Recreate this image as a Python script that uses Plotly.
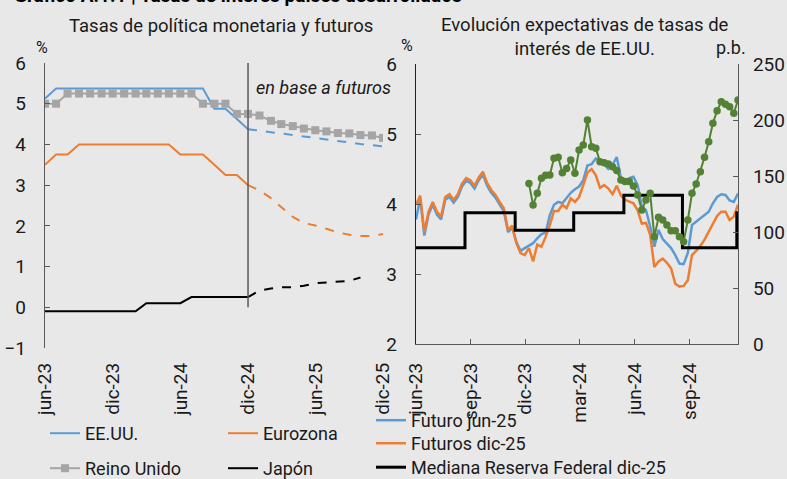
import pandas as pd
import plotly.graph_objects as go

# ---------------- Left chart data (monthly) ----------------
months = pd.date_range("2023-06-01", "2025-12-01", freq="MS")
hist_idx = 19  # jun-23 .. dic-24 are observed; futures start at dic-24

us_hist = [5.125, 5.375, 5.375, 5.375, 5.375, 5.375, 5.375, 5.375, 5.375, 5.375,
           5.375, 5.375, 5.375, 5.375, 5.375, 4.875, 4.875, 4.625, 4.375]
us_fut = [4.375, 4.33, 4.30, 4.27, 4.23, 4.19, 4.15, 4.12, 4.08, 4.05, 4.01, 3.98, 3.95]

ez_hist = [3.5, 3.75, 3.75, 4.0, 4.0, 4.0, 4.0, 4.0, 4.0, 4.0, 4.0, 4.0,
           3.75, 3.75, 3.75, 3.5, 3.25, 3.25, 3.0]
ez_fut = [3.0, 2.87, 2.68, 2.46, 2.22, 2.07, 2.01, 1.93, 1.84, 1.78, 1.75, 1.75, 1.80]

uk_all = [5.0, 5.0, 5.25, 5.25, 5.25, 5.25, 5.25, 5.25, 5.25, 5.25, 5.25, 5.25,
          5.25, 5.25, 5.0, 5.0, 5.0, 4.75, 4.75,
          4.71, 4.58, 4.50, 4.45, 4.39, 4.35, 4.32, 4.28, 4.27, 4.23, 4.22, 4.16]

jp_hist = [-0.1, -0.1, -0.1, -0.1, -0.1, -0.1, -0.1, -0.1, -0.1, 0.1, 0.1, 0.1,
           0.1, 0.25, 0.25, 0.25, 0.25, 0.25, 0.25]
jp_fut = [0.25, 0.41, 0.46, 0.49, 0.49, 0.53, 0.59, 0.61, 0.63, 0.65, 0.73]

left_tickvals = ["2023-06-01", "2023-12-01", "2024-06-01", "2024-12-01", "2025-06-01", "2025-12-01"]
left_ticktext = ["jun-23", "dic-23", "jun-24", "dic-24", "jun-25", "dic-25"]

# ---------------- Right chart data (weekly) ----------------
weeks = pd.date_range("2023-06-30", periods=78, freq="7D")

fut_dic25 = [3.99, 4.12, 3.60, 3.89, 4.03, 3.89, 3.82, 4.10, 4.14, 4.06,
             4.14, 4.29, 4.37, 4.34, 4.26, 4.38, 4.46, 4.30, 4.20, 4.13,
             4.03, 3.94, 3.63, 3.69, 3.44, 3.30, 3.27, 3.37, 3.18, 3.42,
             3.39, 3.53, 3.70, 3.90, 3.90, 3.99, 3.94, 4.08, 4.03, 4.10,
             4.27, 4.45, 4.50, 4.41, 4.23, 4.27, 4.22, 4.14, 4.26, 4.12,
             4.06, 4.03, 4.01, 3.91, 3.72, 3.73, 3.56, 3.10, 3.18, 3.22,
             3.16, 3.08, 2.86, 2.82, 2.83, 2.91, 3.27, 3.33, 3.40, 3.49,
             3.60, 3.73, 3.83, 3.89, 3.89, 3.77, 3.82, 3.99]

fut_jun25 = [3.78, 4.08, 3.55, 3.85, 3.99, 3.85, 3.78, 4.06, 4.10, 4.02,
             4.10, 4.25, 4.33, 4.30, 4.22, 4.34, 4.42, 4.26, 4.16, 4.09,
             3.99, 3.90, 3.60, 3.66, 3.46, 3.33, 3.37, 3.40, 3.44, 3.51,
             3.57, 3.59, 3.84, 3.99, 4.03, 4.01, 4.08, 4.16, 4.21, 4.25,
             4.34, 4.55, 4.57, 4.65, 4.63, 4.56, 4.50, 4.56, 4.67, 4.37,
             4.32, 4.37, 4.39, 4.27, 3.97, 3.91, 3.68, 3.39, 3.63, 3.50,
             3.44, 3.37, 3.27, 3.15, 3.14, 3.30, 3.70, 3.75, 3.80, 3.84,
             3.89, 4.01, 4.10, 4.14, 4.13, 4.05, 4.03, 4.15]

spread_start = 27  # first week with the p.b. series
spread_pb = [143.4, 124.1, 134.5, 147.9, 150.6, 150.9, 165.8, 166.7, 153.0, 156.8,
             164.3, 152.4, 173.2, 177.7, 200.0, 176.2, 174.7, 162.8, 161.9, 160.7,
             158.3, 154.8, 146.4, 145.0, 145.0, 141.1, 133.0, 119.6, 128.6, 134.5,
             95.8, 113.1, 110.7, 106.3, 101.2, 101.2, 95.8, 91.4, 110.7, 134.5,
             142.9, 153.9, 166.7, 180.6, 197.0, 208.3, 216.4, 214.0, 211.9, 206.0, 217.9]

fed_dates = ["2023-06-30", "2023-09-20", "2023-12-13", "2024-03-20", "2024-06-12",
             "2024-09-18", "2024-12-18", "2024-12-20"]
fed_median = [3.375, 3.875, 3.625, 3.875, 4.125, 3.375, 3.875, 3.875]

right_tickvals = ["2023-06-30", "2023-09-30", "2023-12-30", "2024-03-30", "2024-06-30", "2024-09-30"]
right_ticktext = ["jun-23", "sep-23", "dic-23", "mar-24", "jun-24", "sep-24"]

# ---------------- Styling ----------------
BG = "#e8e8e8"
BLUE = "#5b9bd5"
ORANGE = "#ed7d31"
GRAY = "#a5a5a5"
GREEN = "#548235"
AXIS = "#595959"
TXT = "#1a1a1a"
FONT = "Roboto"
W, H = 787, 479

def px_x(p):
    return p / W

def px_y(p):
    return 1 - p / H

fig = go.Figure()

# Left chart traces
fig.add_trace(go.Scatter(x=months[:hist_idx], y=us_hist, mode="lines", name="EE.UU.",
                         line=dict(color=BLUE, width=2), legend="legend", xaxis="x", yaxis="y"))
fig.add_trace(go.Scatter(x=months[hist_idx - 1:], y=us_fut, mode="lines", showlegend=False,
                         line=dict(color=BLUE, width=2, dash="dash"), xaxis="x", yaxis="y"))
fig.add_trace(go.Scatter(x=months[:hist_idx], y=ez_hist, mode="lines", name="Eurozona",
                         line=dict(color=ORANGE, width=2), legend="legend", xaxis="x", yaxis="y"))
fig.add_trace(go.Scatter(x=months[hist_idx - 1:], y=ez_fut, mode="lines", showlegend=False,
                         line=dict(color=ORANGE, width=2, dash="dash"), xaxis="x", yaxis="y"))
fig.add_trace(go.Scatter(x=months, y=uk_all, mode="lines+markers", name="Reino Unido",
                         line=dict(color=GRAY, width=2),
                         marker=dict(symbol="square", size=8, color=GRAY),
                         legend="legend2", xaxis="x", yaxis="y"))
fig.add_trace(go.Scatter(x=months[:hist_idx], y=jp_hist, mode="lines", name="Japón",
                         line=dict(color="black", width=2), legend="legend2", xaxis="x", yaxis="y"))
fig.add_trace(go.Scatter(x=months[hist_idx - 1:hist_idx - 1 + len(jp_fut)], y=jp_fut, mode="lines",
                         showlegend=False, line=dict(color="black", width=2, dash="dash"),
                         xaxis="x", yaxis="y"))

# Right chart traces
fig.add_trace(go.Scatter(x=weeks, y=fut_jun25, mode="lines", name="Futuro jun-25",
                         line=dict(color=BLUE, width=2.5), legend="legend3", xaxis="x2", yaxis="y2"))
fig.add_trace(go.Scatter(x=weeks, y=fut_dic25, mode="lines", name="Futuros dic-25",
                         line=dict(color=ORANGE, width=2.5), legend="legend4", xaxis="x2", yaxis="y2"))
fig.add_trace(go.Scatter(x=fed_dates, y=fed_median, mode="lines", name="Mediana Reserva Federal dic-25",
                         line=dict(color="black", width=3, shape="hv"), legend="legend5",
                         xaxis="x2", yaxis="y2"))
fig.add_trace(go.Scatter(x=weeks[spread_start:spread_start + len(spread_pb)], y=spread_pb,
                         mode="lines+markers", showlegend=False,
                         line=dict(color=GREEN, width=2), marker=dict(size=7.5, color=GREEN),
                         xaxis="x2", yaxis="y3"))

tickfont = dict(family=FONT, size=19, color=TXT)

L_dom_x = [px_x(45), px_x(383)]
L_dom_y = [px_y(348), px_y(63)]
R_dom_x = [px_x(416), px_x(738)]
R_dom_y = [px_y(344), px_y(64)]

legfont = dict(family=FONT, size=18, color=TXT)

def leg(xp, ytop, orient="h", ew=None):
    d = dict(orientation=orient, x=px_x(xp), y=px_y(ytop), xanchor="left", yanchor="top",
             bgcolor="rgba(0,0,0,0)", font=legfont, itemwidth=30)
    if ew:
        d.update(entrywidth=ew, entrywidthmode="pixels")
    return d

fig.update_layout(
    width=W, height=H,
    paper_bgcolor=BG, plot_bgcolor=BG,
    margin=dict(l=0, r=0, t=0, b=0, pad=0, autoexpand=False),
    font=dict(family=FONT, size=18, color=TXT),
    hovermode=False,
    xaxis=dict(domain=L_dom_x, anchor="y", type="date", automargin=False,
               range=["2023-06-01", "2025-12-01"],
               tickvals=left_tickvals, ticktext=left_ticktext, tickangle=-90,
               showgrid=False, showline=False, ticks="", zeroline=False,
               tickfont=tickfont, ticklabelstandoff=10),
    xaxis3=dict(overlaying="x", matches="x", anchor="free", automargin=False,
                position=L_dom_y[0] + (L_dom_y[1] - L_dom_y[0]) / 7,
                type="date", range=["2023-06-01", "2025-12-01"],
                tickvals=left_tickvals, showticklabels=False,
                showline=True, linecolor=AXIS, linewidth=1.3,
                ticks="inside", ticklen=5, tickcolor=AXIS, showgrid=False, zeroline=False),
    yaxis=dict(domain=L_dom_y, anchor="x", range=[-1, 6], dtick=1, automargin=False,
               showgrid=False, showline=True, linecolor=AXIS, linewidth=1.3,
               ticks="inside", ticklen=5, tickcolor=AXIS, zeroline=False,
               tickfont=tickfont, ticklabelstandoff=14),
    xaxis2=dict(domain=R_dom_x, anchor="y2", type="date", automargin=False,
                range=["2023-06-30", "2024-12-20"],
                tickvals=right_tickvals, ticktext=right_ticktext, tickangle=-90,
                showgrid=False, showline=True, linecolor=AXIS, linewidth=1.3,
                ticks="inside", ticklen=5, tickcolor=AXIS, zeroline=False,
                tickfont=tickfont, ticklabelstandoff=10),
    yaxis2=dict(domain=R_dom_y, anchor="x2", range=[2, 6], dtick=1, automargin=False,
                showgrid=False, showline=True, linecolor="#222", linewidth=1.3,
                ticks="inside", ticklen=5, tickcolor=AXIS, zeroline=False,
                tickfont=tickfont, ticklabelstandoff=14),
    yaxis3=dict(overlaying="y2", anchor="x2", side="right", range=[0, 250], dtick=50,
                automargin=False,
                showgrid=False, showline=True, linecolor=AXIS, linewidth=1.3,
                ticks="inside", ticklen=5, tickcolor=AXIS, zeroline=False,
                tickfont=tickfont, ticklabelstandoff=10),
    legend=leg(45, 415, "h", 133),
    legend2=leg(45, 450, "h", 133),
    legend3=leg(371, 402, "v"),
    legend4=leg(371, 425, "v"),
    legend5=leg(371, 449, "v"),
    showlegend=True,
)

# Vertical separator at dic-24
fig.add_shape(type="line", xref="x", yref="y", x0="2024-12-01", x1="2024-12-01", y0=0, y1=6,
              line=dict(color=AXIS, width=1.5))

ann = []
ann.append(dict(text="<b>Gráfico A.1.1 | Tasas de interés países desarrollados</b>",
                x=px_x(12), y=px_y(9.5), xanchor="left", yanchor="bottom",
                font=dict(family=FONT, size=19, color="black")))
ann.append(dict(text="Tasas de política monetaria y futuros", x=px_x(221), y=px_y(26),
                xanchor="center", yanchor="middle", font=dict(family=FONT, size=18.5, color=TXT)))
ann.append(dict(text="Evolución expectativas de tasas de<br>interés de EE.UU.", x=px_x(585), y=px_y(37),
                xanchor="center", yanchor="middle", font=dict(family=FONT, size=18.5, color=TXT)))
ann.append(dict(text="%", x=px_x(42), y=px_y(47), xanchor="center", yanchor="middle",
                font=dict(family=FONT, size=16, color=TXT)))
ann.append(dict(text="%", x=px_x(407), y=px_y(45), xanchor="center", yanchor="middle",
                font=dict(family=FONT, size=16, color=TXT)))
ann.append(dict(text="p.b.", x=px_x(731), y=px_y(47), xanchor="center", yanchor="middle",
                font=dict(family=FONT, size=18, color=TXT)))
ann.append(dict(text="<i>en base a futuros</i>", x=px_x(323), y=px_y(87), xanchor="center",
                yanchor="middle", font=dict(family=FONT, size=18, color=TXT)))
for a in ann:
    a.update(xref="paper", yref="paper", showarrow=False)
fig.update_layout(annotations=ann)

fig.write_html("out.html",
               config={"displayModeBar": False},
               post_script="document.body.style.margin='0';document.body.style.padding='0';"
                           "document.documentElement.style.overflow='hidden';")
